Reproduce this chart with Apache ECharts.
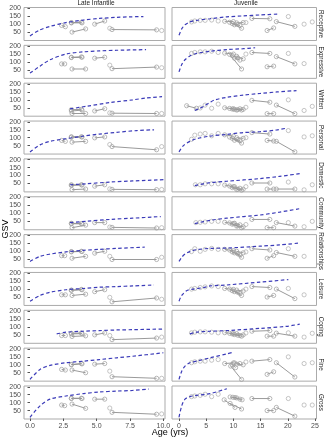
<!DOCTYPE html>
<html>
<head>
<meta charset="utf-8">
<script src="https://cdn.jsdelivr.net/npm/echarts@6/dist/echarts.min.js"></script>
<style>
html, body { margin: 0; background: #fff; }
#chart { width: 325px; height: 440px; }
</style>
</head>
<body>
<div id="chart"></div>
<script>
// facets
const domains = ['Receptive', 'Expressive', 'Written', 'Personal', 'Domestic', 'Community',
  'Relationships', 'Leisure', 'Coping', 'Fine', 'Gross'];
const groups = ['Late Infantile', 'Juvenile'];

// tick labels
const lateTicks = [0, 2.5, 5, 7.5, 10];
const juvTicks = [0, 5, 10, 15, 20, 25];
const gsvTicks = [50, 100, 150, 200];

// normative curves (dashed), one list per domain
const lateCurves = [
  [[0,26],[0.7,62],[1.5,86],[2.7,110],[4,126],[5.2,136],[6.5,143],[7.5,146],[8.5,148]],
  [[0,30],[0.75,74],[1.5,114],[2.7,150],[4,164],[5.2,170],[6.5,174],[8.7,178]],
  [[3,43],[4.2,59],[6,83],[7.7,100],[8.7,112],[9.9,120]],
  [[0,10],[0.75,55],[1.5,77],[2.7,94],[4,110],[5.2,123],[6.5,134],[8,145],[9.3,150]],
  [[3,42],[4.2,48],[6,59],[7.7,66],[10,74]],
  [[3,42],[4.2,50],[6,62],[7.7,70],[9.8,80]],
  [[0,36],[0.75,68],[1.5,82],[2.7,96],[4,106],[5.2,112],[6.5,118],[8.6,126]],
  [[0,24],[0.75,60],[1.5,80],[2.7,96],[4,104],[5.2,112],[6.5,116],[7.7,120],[9.3,126]],
  [[2,56],[2.7,67],[4,73],[5.2,77],[6.5,81],[7.7,83],[10,87]],
  [[0,8],[0.75,71],[1.5,96],[2.7,113],[4,123],[5.2,133],[6.5,144],[7.7,154],[10,176]],
  [[0,8],[0.75,80],[1.5,122],[2.7,142],[4,157],[5.2,167],[6.5,173],[7.7,177],[8.9,186]]
];
const juvCurves = [
  [[0,30],[0.5,70],[1.1,96],[2,114],[3.25,124],[5.7,134],[8.8,146],[11.8,152],[14.9,158],[18.3,164]],
  [[0,38],[0.5,84],[1.1,114],[2,138],[3.25,154],[5.7,168],[8.8,178],[11.8,184],[14,190]],
  [[2.9,33],[3.7,45],[4.5,58],[5.7,84],[6.6,100],[8.8,116],[11.8,130],[14.9,140],[18,150],[21.6,158]],
  [[0,11],[0.8,50],[2,77],[3.25,94],[5.7,110],[8.8,121],[11.8,132],[14.9,138],[18,149],[19.8,160]],
  [[2.9,37],[5.7,55],[8.8,64],[14.9,81],[18.5,95],[22.2,112]],
  [[2.9,36],[5.7,56],[8.8,70],[14.9,90],[18.5,108],[22.2,130]],
  [[0,36],[0.5,62],[1.1,82],[2,98],[3.25,110],[5.7,118],[8.8,120],[14.9,132],[18.5,140],[22.2,152]],
  [[0,24],[0.5,60],[1.4,90],[2.6,100],[4.5,110],[5.7,120],[8.8,126],[14.9,144],[20.1,160]],
  [[2,56],[3.25,67],[5.7,73],[8.8,77],[14.9,91],[19.8,104],[22.2,118]],
  [[0,8],[0.5,60],[1.1,92],[2,113],[3.25,123],[5.7,144],[8.8,169],[10,179]],
  [[0,8],[0.5,80],[1.1,122],[2,138],[3.25,146],[5.7,157],[8.8,188]]
];

// repeated measures of one patient (two visits joined), per domain
const lateSegs = [
  [[[2.37,92],[2.65,84]],[[3.1,110],[3.85,112]],[[3.1,108],[3.9,108]],[[3.15,50],[4.17,70]],[[4.85,100],[5.6,120]],[[6.15,66],[9.49,64]]],
  [[[2.37,88],[2.6,88]],[[3.1,130],[3.85,132]],[[3.1,128],[3.9,130]],[[3.15,56],[4.17,56]],[[4.85,124],[5.6,130]],[[6.15,58],[9.49,68]]],
  [[[3.1,38],[3.85,40]],[[3.1,30],[3.9,35]],[[3.15,14],[4.17,14]],[[4.85,30],[5.6,44]],[[6.15,16],[9.49,14]]],
  [[[2.37,83],[2.65,77]],[[3.1,106],[3.85,106]],[[3.1,103],[3.9,104]],[[3.15,72],[4.17,77]],[[4.85,99],[5.6,105]],[[6.15,44],[9.49,24]]],
  [[[3.1,42],[3.85,42]],[[3.1,38],[3.9,40]],[[3.15,11],[4.17,15]],[[4.85,33],[5.6,42]],[[6.15,13],[9.49,11]]],
  [[[3.1,38],[3.85,36]],[[3.1,35],[3.9,34]],[[3.15,10],[4.17,26]],[[4.85,42],[5.6,42]],[[6.15,12],[9.49,8]]],
  [[[2.37,72],[2.6,72]],[[3.1,96],[3.85,100]],[[3.1,98],[3.9,98]],[[3.15,56],[4.17,68]],[[4.85,88],[5.6,100]],[[6.15,48],[9.49,48]]],
  [[[2.37,64],[2.65,64]],[[3.1,94],[3.85,98]],[[3.1,92],[3.9,96]],[[3.15,60],[4.17,68]],[[4.85,84],[5.6,96]],[[6.15,20],[9.49,44]]],
  [[[2.37,46],[2.65,46]],[[3.1,60],[3.85,62]],[[3.1,56],[3.9,58]],[[3.15,40],[4.17,44]],[[4.85,50],[5.6,62]],[[6.15,20],[9.49,30]]],
  [[[2.37,71],[2.65,67]],[[3.1,100],[3.85,108]],[[3.1,102],[3.9,106]],[[3.15,67],[4.17,50]],[[4.85,104],[5.6,108]],[[6.15,25],[9.49,15]]],
  [[[2.37,85],[2.6,81]],[[3.1,128],[3.85,128]],[[3.1,126],[3.9,126]],[[3.15,91],[4.17,64]],[[4.85,122],[5.6,122]],[[6.15,39],[9.49,27]]]
];
const latePts = [
  [[5.98,74],[9.87,60]], [[5.98,80],[9.87,64]], [[5.98,18],[9.87,14]], [[5.98,57],[9.87,44]],
  [[5.98,16],[9.87,12]], [[5.98,14],[9.87,10]], [[5.98,68],[9.87,62]], [[5.98,48],[9.87,36]],
  [[5.98,46],[9.87,36]], [[5.98,60],[9.87,15]], [[5.98,66],[9.87,29]]
];

const juvSegs = [
  [[[8.4,118],[10,116]],[[9.3,112],[11.5,74]],[[9.8,104],[10.8,98]],[[10.2,96],[11.2,92]],[[10.6,108],[11.8,110]],[[13.4,136],[16.7,134]],[[16.2,60],[17.4,76]],[[17.9,116],[21.3,86]]],
  [[[8.4,156],[10,150]],[[9.3,148],[11.5,56]],[[9.8,140],[10.8,126]],[[10.2,124],[11.2,112]],[[10.6,136],[11.8,120]],[[13.4,160],[16.7,154]],[[16.2,70],[17.4,74]],[[17.9,134],[21.3,88]]],
  [[[1.4,63],[3.2,47]],[[8.4,50],[10,44]],[[9.3,46],[11.5,36]],[[9.8,42],[10.8,38]],[[10.2,40],[11.2,44]],[[10.6,36],[11.8,40]],[[13.4,97],[16.7,85]],[[16.2,13],[17.4,13]],[[17.9,67],[21.3,13]]],
  [[[8.4,118],[10,110]],[[9.3,104],[11.5,66]],[[9.8,96],[10.8,88]],[[10.2,84],[11.2,80]],[[10.6,100],[11.8,96]],[[13.4,132],[16.7,123]],[[16.2,83],[17.4,79]],[[17.9,77],[21.3,11]]],
  [[[8.4,40],[10,30]],[[9.3,34],[11.5,8]],[[9.8,24],[10.8,14]],[[10.2,30],[11.2,20]],[[10.6,12],[11.8,14]],[[13.4,53],[16.7,53]],[[16.2,15],[17.4,15]],[[17.9,15],[21.3,15]]],
  [[[8.4,44],[10,36]],[[9.3,40],[11.5,10]],[[9.8,32],[10.8,22]],[[10.2,38],[11.2,28]],[[10.6,20],[11.8,16]],[[13.4,62],[16.7,62]],[[16.2,10],[17.4,10]],[[17.9,42],[21.3,20]]],
  [[[8.4,112],[10,104]],[[9.3,108],[11.5,62]],[[9.8,96],[10.8,84]],[[10.2,90],[11.2,76]],[[10.6,100],[11.8,90]],[[13.4,116],[16.7,108]],[[16.2,56],[17.4,72]],[[17.9,92],[21.3,68]]],
  [[[8.4,104],[10,98]],[[9.3,100],[11.5,60]],[[9.8,90],[10.8,80]],[[10.2,84],[11.2,72]],[[10.6,94],[11.8,88]],[[13.4,116],[16.7,110]],[[16.2,50],[17.4,60]],[[17.9,100],[21.3,40]]],
  [[[8.4,64],[10,58]],[[9.3,60],[11.5,42]],[[9.8,56],[10.8,48]],[[10.2,52],[11.2,46]],[[10.6,58],[11.8,50]],[[13.4,73],[16.7,77]],[[16.2,42],[17.4,42]],[[17.9,61],[21.3,42]]],
  [[[8.4,108],[10,112]],[[9.5,92],[11.5,8]],[[9.8,102],[10.4,82]],[[10.2,112],[11.2,108]],[[10.6,104],[11.8,100]],[[13.4,123],[16.7,133]],[[16.2,40],[17.4,56]],[[17.9,113],[21.3,23]]],
  [[[9.4,136],[11.2,122]],[[8.3,118],[10.3,70]],[[9.4,95],[11.5,60]],[[9.9,134],[10.6,130]],[[10.3,132],[11.6,118]],[[13.4,126],[16.7,126]],[[16.2,50],[17.4,50]],[[17.9,70],[21.3,15]]]
];
const juvPts = [
  [[2.3,114],[2.9,120],[3.9,124],[4.8,124],[6,126],[7.2,120],[12.3,110],[20.1,148],[23,100],[24.5,114]],
  [[2.3,154],[2.9,160],[3.9,164],[4.8,164],[6,168],[7.2,160],[12.3,150],[20.1,154],[23,90]],
  [[3.9,49],[4.8,67],[6,47],[7.2,73],[12.3,53],[20.1,100],[23,33],[24.5,59]],
  [[2.3,90],[2.9,116],[3.9,123],[4.8,127],[6,112],[7.2,127],[12.3,100],[20.1,145],[23,105],[24.5,112]],
  [[3,42],[3.9,42],[4.8,48],[6,48],[7.2,48],[12.3,30],[20.1,59],[23,10],[24.5,42]],
  [[3.1,42],[3.9,44],[4.8,46],[6,50],[7.2,50],[12.3,30],[20.1,42],[23,16],[24.5,50]],
  [[2.3,98],[2.9,116],[3.9,100],[4.8,112],[6,118],[7.2,112],[12.3,96],[20.1,116],[23,68]],
  [[2.3,100],[2.9,104],[3.9,110],[4.8,114],[6,120],[7.2,116],[12.3,100],[20.1,104],[23,64]],
  [[2.3,63],[2.9,67],[3.9,69],[4.8,69],[6,67],[7.2,63],[12.3,62],[20.1,63],[23,36],[24.5,60]],
  [[2.3,113],[2.9,119],[3.9,123],[4.8,123],[6,129],[7.2,133],[12.3,118],[20.1,150],[23,108],[24.5,113]],
  [[2.3,138],[2.9,142],[3.9,146],[4.8,153],[6,138],[7.2,153],[20.1,126],[23,85],[24.5,85]]
];

// open grey circle, like ggplot shape 1
const ptStyle = { color: 'rgba(255,255,255,0)', borderColor: '#a0a0a0', borderWidth: 0.75 };
const grids = [], xAxes = [], yAxes = [], series = [], graphics = [];
const font = 'Liberation Sans';

domains.forEach((d, r) => {
  [0, 1].forEach(c => {
    const k = grids.length;
    const top = 7.5 + 37.85 * r;
    const last = r === domains.length - 1;
    const ticks = c ? juvTicks : lateTicks;
    grids.push({
      left: c ? 172 : 24, width: c ? 144.5 : 141, top: top, height: 33,
      show: true, borderColor: '#ababab', borderWidth: 1, backgroundColor: '#fff'
    });
    xAxes.push({
      type: 'value', gridIndex: k, min: c ? -1.29 : -0.45, max: c ? 25.28 : 10.12,
      axisLine: { show: false }, splitLine: { show: false },
      axisTick: { show: last, customValues: ticks, length: 2.5, lineStyle: { color: '#555' } },
      axisLabel: {
        show: last, customValues: ticks, fontSize: 7, color: '#4d4d4d', margin: 3.5,
        formatter: v => c ? String(v) : v.toFixed(1)
      }
    });
    yAxes.push({
      type: 'value', gridIndex: k, min: -3, max: 205,
      axisLine: { show: false }, splitLine: { show: false },
      axisTick: { show: c === 0, customValues: gsvTicks, length: 2.5, lineStyle: { color: '#555' } },
      axisLabel: { show: c === 0, customValues: gsvTicks, fontSize: 7, color: '#4d4d4d', margin: 3 }
    });
    const segs = c ? juvSegs[r] : lateSegs[r];
    const pts = c ? juvPts[r] : latePts[r];
    const curve = c ? juvCurves[r] : lateCurves[r];
    segs.forEach(s => series.push({
      type: 'line', xAxisIndex: k, yAxisIndex: k, data: s,
      symbol: 'circle', symbolSize: 4.2, showSymbol: true,
      lineStyle: { color: '#8f8f8f', width: 0.9 }, itemStyle: ptStyle, z: 2
    }));
    series.push({
      type: 'scatter', xAxisIndex: k, yAxisIndex: k, data: pts,
      symbol: 'circle', symbolSize: 4.2, itemStyle: ptStyle, z: 2
    });
    series.push({
      type: 'line', xAxisIndex: k, yAxisIndex: k, data: curve, smooth: 0.3,
      showSymbol: false, lineStyle: { color: '#3a3ab8', width: 1.2, type: [3.5, 2.5] }, z: 3
    });
  });
  graphics.push({
    type: 'text', x: 321, y: 7.5 + 37.85 * r + 16.5, rotation: -Math.PI / 2,
    style: { text: d, fontSize: 6.3, fill: '#1a1a1a', textAlign: 'center', textVerticalAlign: 'middle', fontFamily: font }
  });
});

graphics.push(
  { type: 'text', x: 96, y: 3.5, style: { text: groups[0], fontSize: 6.5, fill: '#1a1a1a', textAlign: 'center', textVerticalAlign: 'middle', fontFamily: font } },
  { type: 'text', x: 246, y: 3.5, style: { text: groups[1], fontSize: 6.5, fill: '#1a1a1a', textAlign: 'center', textVerticalAlign: 'middle', fontFamily: font } },
  { type: 'text', x: 6, y: 229, rotation: Math.PI / 2, style: { text: 'GSV', fontSize: 9, fill: '#000', textAlign: 'center', textVerticalAlign: 'middle', fontFamily: font } },
  { type: 'text', x: 170, y: 433, style: { text: 'Age (yrs)', fontSize: 9, fill: '#000', textAlign: 'center', textVerticalAlign: 'middle', fontFamily: font } }
);

const chart = echarts.init(document.getElementById('chart'), null, { renderer: 'canvas' });
chart.setOption({
  animation: false,
  textStyle: { fontFamily: font },
  grid: grids, xAxis: xAxes, yAxis: yAxes, series: series, graphic: graphics
});
</script>
</body>
</html>
